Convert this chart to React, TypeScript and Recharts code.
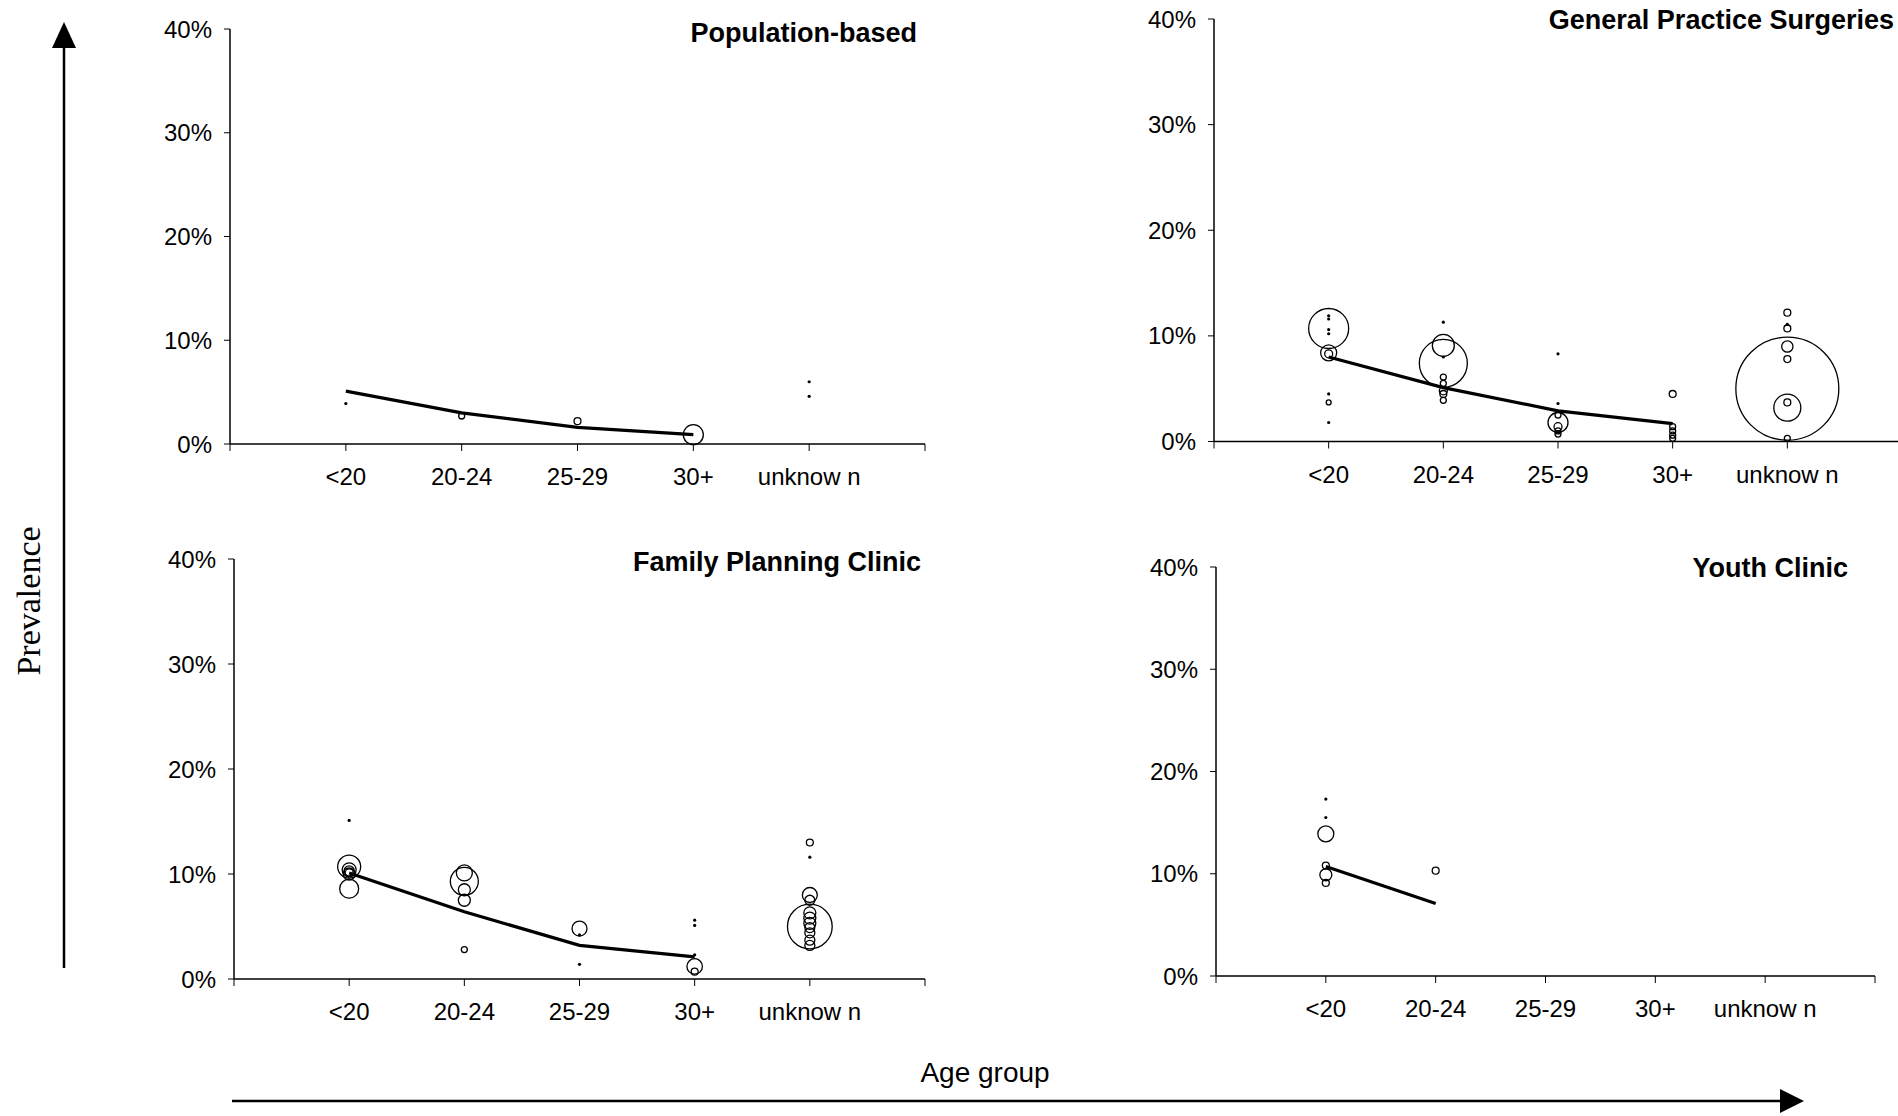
import { ComposedChart, Scatter, Line, XAxis, YAxis } from 'recharts'

// Prevalence by age group, four settings. Bubbles = individual studies
// (area ~ weight), thick line = pooled trend. Scanned-figure look: black on white.

const AGE_GROUPS = ['<20', '20-24', '25-29', '30+', 'unknow n']
const X_TICKS = [0, 1, 2, 3, 4, 5, 6]
const Y_TICKS = [0, 10, 20, 30, 40]

// [age group (1 = <20 ... 5 = unknown), prevalence %, weight]
const POP_POINTS = [
  [1, 3.9, 1], [2, 2.7, 9], [3, 2.2, 12], [4, 0.9, 100], [5, 6.0, 1], [5, 4.6, 1],
]
const POP_TREND = [5.1, 3.0, 1.6, 0.9]

const GP_POINTS = [
  [1, 10.7, 400], [1, 11.9, 1], [1, 11.6, 1], [1, 10.6, 1], [1, 10.2, 1],
  [1, 8.4, 64], [1, 8.3, 16], [1, 4.5, 1], [1, 3.7, 6], [1, 1.8, 1],
  [2, 11.3, 1], [2, 9.1, 121], [2, 7.4, 576], [2, 8.0, 1], [2, 6.1, 9],
  [2, 5.5, 9], [2, 4.8, 16], [2, 4.5, 12], [2, 3.9, 9],
  [3, 8.3, 1], [3, 3.6, 1], [3, 1.8, 100], [3, 2.5, 9], [3, 1.4, 16], [3, 1.0, 9], [3, 0.7, 9],
  [4, 4.5, 12], [4, 1.4, 9], [4, 1.0, 9], [4, 0.6, 9], [4, 0.3, 9],
  [5, 12.2, 12], [5, 11.1, 1], [5, 10.7, 12], [5, 9.0, 32], [5, 7.8, 12],
  [5, 5.0, 2650], [5, 3.2, 182], [5, 3.7, 12], [5, 0.3, 9],
]
const GP_TREND = [8.0, 5.1, 2.9, 1.7]

const FP_POINTS = [
  [1, 15.1, 1], [1, 10.7, 132], [1, 10.4, 49], [1, 10.3, 25], [1, 10.1, 16], [1, 10.0, 36], [1, 8.6, 90],
  [2, 9.3, 196], [2, 10.1, 64], [2, 8.5, 36], [2, 7.5, 36], [2, 2.8, 9],
  [3, 4.8, 56], [3, 4.2, 1], [3, 1.4, 1],
  [4, 5.6, 1], [4, 5.1, 1], [4, 2.3, 2], [4, 1.2, 60], [4, 0.7, 12],
  [5, 13.0, 12], [5, 11.6, 1], [5, 8.0, 56], [5, 7.5, 25], [5, 5.0, 500],
  [5, 6.3, 36], [5, 5.8, 36], [5, 5.3, 36], [5, 4.9, 25], [5, 4.4, 25], [5, 3.7, 25], [5, 3.2, 25],
]
const FP_TREND = [10.1, 6.4, 3.2, 2.1]

const YC_POINTS = [
  [1, 17.3, 1], [1, 15.5, 1], [1, 13.9, 64], [1, 10.8, 12], [1, 9.9, 36], [1, 9.1, 12],
  [2, 10.3, 12],
]
const YC_TREND = [10.7, 7.1]

const FONT = 'Liberation Sans, Arial, sans-serif'
const YW = 90
const XH = 60
const M = { top: 20, right: 10, bottom: 0, left: 0 }

const toPoints = (rows: number[][]) => rows.map(([x, y, w]) => ({ x, y, w }))
const toTrend = (vals: number[]) => vals.map((y, i) => ({ x: i + 1, y }))

function Bubble(props: any) {
  const { cx, cy, payload } = props
  const dot = payload.w <= 2
  return (
    <circle cx={cx} cy={cy} r={dot ? 1.6 : Math.sqrt(payload.w)}
      fill={dot ? '#000' : 'none'} stroke="#000" strokeWidth={dot ? 0 : 1.3} />
  )
}

function Panel({ x0, x1, yTop, yBot, points, trend }: any) {
  const w = x1 - x0 + YW + M.right
  const h = yBot - yTop + M.top + XH
  return (
    <div style={{ position: 'absolute', left: x0 - YW, top: yTop - M.top }}>
      <ComposedChart width={w} height={h} margin={M}>
        <XAxis type="number" dataKey="x" domain={[0, 6]} ticks={X_TICKS} interval={0}
          tickFormatter={(i: number) => AGE_GROUPS[i - 1] ?? ''} height={XH}
          axisLine={{ stroke: '#000', strokeWidth: 1.5 }} tickLine={{ stroke: '#000' }}
          tickSize={7} tickMargin={17} tick={{ fill: '#000', fontSize: 24, fontFamily: FONT }} />
        <YAxis type="number" dataKey="y" domain={[0, 40]} ticks={Y_TICKS} width={YW}
          tickFormatter={(v: number) => `${v}%`}
          axisLine={{ stroke: '#000', strokeWidth: 1.5 }} tickLine={{ stroke: '#000' }}
          tickSize={6} tickMargin={12} tick={{ fill: '#000', fontSize: 24, fontFamily: FONT }} />
        <Scatter data={toPoints(points)} dataKey="y" shape={Bubble} isAnimationActive={false} />
        <Line data={toTrend(trend)} dataKey="y" type="linear" stroke="#000" strokeWidth={3.2}
          dot={false} activeDot={false} isAnimationActive={false} />
      </ComposedChart>
    </div>
  )
}

const titleStyle = { fontFamily: FONT, fontSize: 27, fontWeight: 700, fill: '#000' }

export default function App() {
  return (
    <div style={{ position: 'absolute', left: 0, top: 0, width: 1898, height: 1116, overflow: 'hidden', background: '#fff' }}>
      <Panel x0={230} x1={925} yTop={29} yBot={444} points={POP_POINTS} trend={POP_TREND} />
      <Panel x0={1214} x1={1902} yTop={18.5} yBot={441} points={GP_POINTS} trend={GP_TREND} />
      <Panel x0={234} x1={925} yTop={559} yBot={979} points={FP_POINTS} trend={FP_TREND} />
      <Panel x0={1216} x1={1875} yTop={567} yBot={976} points={YC_POINTS} trend={YC_TREND} />

      <svg width={1898} height={1116} style={{ position: 'absolute', left: 0, top: 0, pointerEvents: 'none' }}>
        <text x={917} y={42} textAnchor="end" style={titleStyle}>Population-based</text>
        <text x={1894} y={29} textAnchor="end" style={titleStyle}>General Practice Surgeries</text>
        <text x={921} y={571} textAnchor="end" style={titleStyle}>Family Planning Clinic</text>
        <text x={1848} y={577} textAnchor="end" style={titleStyle}>Youth Clinic</text>

        {/* vertical arrow + label */}
        <line x1={64} y1={968} x2={64} y2={44} stroke="#000" strokeWidth={2.5} />
        <polygon points="64,22 52,48 76,48" fill="#000" />
        <text x={40} y={601} textAnchor="middle" transform="rotate(-90 40 601)"
          style={{ fontFamily: 'Liberation Serif, Times New Roman, serif', fontSize: 34, fill: '#000' }}>Prevalence</text>

        {/* horizontal arrow + label */}
        <line x1={232} y1={1101} x2={1784} y2={1101} stroke="#000" strokeWidth={2.5} />
        <polygon points="1804,1101 1780,1089 1780,1113" fill="#000" />
        <text x={985} y={1082} textAnchor="middle" style={{ fontFamily: FONT, fontSize: 28, fill: '#000' }}>Age group</text>
      </svg>
    </div>
  )
}
